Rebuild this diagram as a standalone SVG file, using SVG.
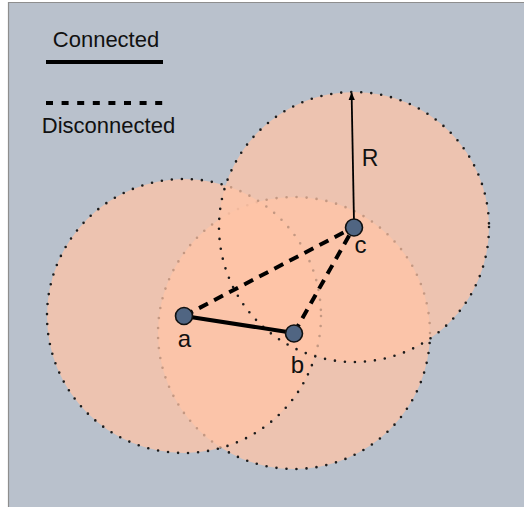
<svg xmlns="http://www.w3.org/2000/svg" width="524" height="507" viewBox="0 0 524 507">
  <style>
    .txt { font-family: "Liberation Sans", Arial, sans-serif; fill: #111; }
    .range { fill: #ffc4a6; fill-opacity: 0.74; stroke: #1c1c1c; stroke-width: 2.6; stroke-dasharray: 0 10.05; stroke-linecap: round; }
    .node { fill: #506582; stroke: #111; stroke-width: 1.6; }
    .solid { stroke: #000; stroke-width: 4; fill: none; }
    .dashed { stroke: #000; stroke-width: 4; fill: none; stroke-dasharray: 10 7; }
  </style>
  <defs>
    <marker id="arrow" viewBox="0 0 10 10" refX="9" refY="5" markerWidth="8" markerHeight="8" markerUnits="userSpaceOnUse" orient="auto">
      <path d="M0,1 L10,5 L0,9 Z" fill="#000"/>
    </marker>
  </defs>
  <rect x="0" y="0" width="524" height="507" fill="#ffffff"/>
  <rect x="8" y="2.5" width="516" height="505" fill="#b9c1cc"/>
  <path d="M8.5,507 L8.5,2.5 L524,2.5" fill="none" stroke="#8e8e8e" stroke-width="1.2"/>

  <g id="legend">
    <text class="txt" x="106" y="47" font-size="22" text-anchor="middle">Connected</text>
    <line class="solid" x1="46" y1="62" x2="163" y2="62"/>
    <line x1="46" y1="103" x2="163" y2="103" stroke="#000" stroke-width="4" stroke-dasharray="7 8.6"/>
    <text class="txt" x="108.5" y="133" font-size="22" text-anchor="middle">Disconnected</text>
  </g>

  <g id="ranges">
    <circle id="range-b" class="range" cx="294" cy="333" r="136"/>
    <circle id="range-a" class="range" cx="184" cy="316" r="137"/>
    <circle id="range-c" class="range" cx="354" cy="227" r="135"/>
  </g>

  <g id="connectors">
    <line class="solid" x1="184" y1="316" x2="294" y2="333"/>
    <line class="dashed" x1="184" y1="316" x2="354" y2="227"/>
    <line class="dashed" x1="294" y1="333" x2="354" y2="227"/>
    <line x1="354" y1="222" x2="351.6" y2="93" stroke="#000" stroke-width="1.8" marker-end="url(#arrow)"/>
    <text class="txt" x="370" y="166" font-size="23" text-anchor="middle">R</text>
  </g>

  <g id="node-a">
    <circle class="node" cx="184" cy="316" r="8.5"/>
    <text class="txt" x="184.5" y="347" font-size="24" text-anchor="middle">a</text>
  </g>
  <g id="node-b">
    <circle class="node" cx="294" cy="333.5" r="8.5"/>
    <text class="txt" x="297.5" y="373" font-size="24" text-anchor="middle">b</text>
  </g>
  <g id="node-c">
    <circle class="node" cx="354" cy="227.5" r="8.5"/>
    <text class="txt" x="360.5" y="253" font-size="24" text-anchor="middle">c</text>
  </g>
</svg>
